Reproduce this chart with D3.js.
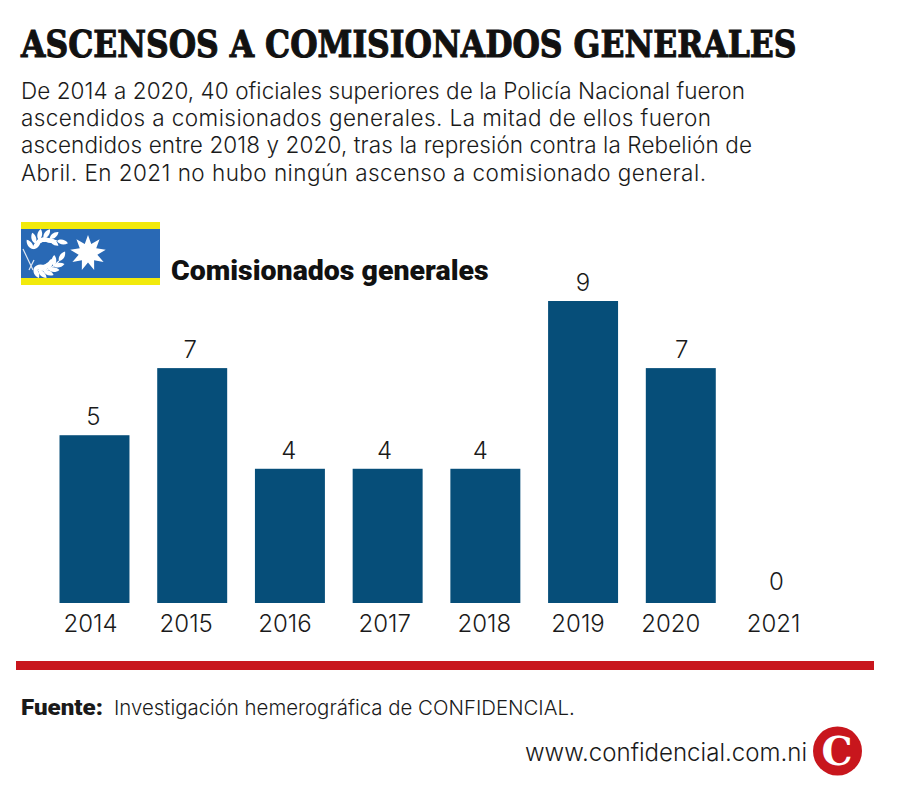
<!DOCTYPE html>
<html>
<head>
<meta charset="utf-8">
<script src="https://cdn.jsdelivr.net/npm/d3@7"></script>
<style>
    html, body { margin: 0; padding: 0; background: #fff; }
    svg { display: block; }
    text { fill: #1a1a1a; font-family: "Inter", "Roboto", sans-serif; }
</style>
</head>
<body>
<div id="chart"></div>
<script>
// Data
const years = ["2014", "2015", "2016", "2017", "2018", "2019", "2020", "2021"];
const counts = [5, 7, 4, 4, 4, 9, 7, 0];

const titleText = "ASCENSOS A COMISIONADOS GENERALES";
const introLines = [
    "De 2014 a 2020, 40 oficiales superiores de la Policía Nacional fueron",
    "ascendidos a comisionados generales. La mitad de ellos fueron",
    "ascendidos entre 2018 y 2020, tras la represión contra la Rebelión de",
    "Abril. En 2021 no hubo ningún ascenso a comisionado general."
];

// Measured line widths, the original text is set a bit looser on some lines
const introWidths = [724, 690, 731, 685];

// Labels in the original are hand placed, not centred on the bars
const tickShift = [-4, -6, -5, -3, -1, -5, -10, -5];
const valueShift = [-1, -2, -1, -3, -5, 0, 1, -2];

const width = 899, height = 798;
const svg = d3.select("#chart").append("svg")
    .attr("width", width)
    .attr("height", height);

// Title, squeezed horizontally to the measured width
const title = svg.append("text")
    .style("font-family", "'DejaVu Serif', serif")
    .style("font-weight", 700)
    .style("font-size", "38px")
    .style("fill", "#111")
    .style("stroke", "#111")
    .style("stroke-width", 1.1)
    .text(titleText);
const titleScale = 776 / title.node().getComputedTextLength();
title.attr("transform", `translate(21,57) scale(${titleScale},1)`);

svg.selectAll(".intro")
    .data(introLines)
    .join("text")
    .attr("class", "intro")
    .attr("x", 21)
    .attr("y", (d, i) => 99 + i * 27.2)
    .attr("textLength", (d, i) => introWidths[i])
    .attr("lengthAdjust", "spacing")
    .style("font-size", "22.5px")
    .style("font-weight", 300)
    .text(d => d);

// Rank insignia
const flag = svg.append("g").attr("transform", "translate(21,222)");
flag.append("rect").attr("width", 139).attr("height", 63).attr("fill", "#f2ea0c");
flag.append("rect").attr("y", 7).attr("width", 139).attr("height", 49).attr("fill", "#2969b5");

const star = d3.range(18).map(i => {
    const r = i % 2 ? 9.5 : 18;
    const a = i * Math.PI / 9 - Math.PI / 2;
    return [r * Math.cos(a), r * Math.sin(a)];
});
flag.append("path")
    .attr("transform", "translate(67,31)")
    .attr("d", d3.line()(star) + "Z")
    .attr("fill", "#fff");

// Two laurel branches: leaves sit along a curved stem
const leaf = "M0,0C2,-3.5 7,-4.5 11,-2C8,2 3,2.5 0,0Z";
const branches = [
    { p0: [12, 27], p1: [16, 11], p2: [36, 19] },
    { p0: [13, 46], p1: [24, 54], p2: [38, 39] }
];
branches.forEach(b => {
    flag.append("path")
        .attr("d", `M${b.p0}Q${b.p1} ${b.p2}`)
        .attr("stroke", "#fff").attr("stroke-width", 1.2).attr("fill", "none");
    [0, 0.2, 0.4, 0.6, 0.8, 1].forEach(t => {
        const u = 1 - t;
        const px = u * u * b.p0[0] + 2 * u * t * b.p1[0] + t * t * b.p2[0];
        const py = u * u * b.p0[1] + 2 * u * t * b.p1[1] + t * t * b.p2[1];
        const dx = u * (b.p1[0] - b.p0[0]) + t * (b.p2[0] - b.p1[0]);
        const dy = u * (b.p1[1] - b.p0[1]) + t * (b.p2[1] - b.p1[1]);
        const angle = Math.atan2(dy, dx) * 180 / Math.PI;
        (t === 1 ? [0] : [-38, 38]).forEach(side => {
            flag.append("path").attr("d", leaf).attr("fill", "#fff")
                .attr("transform", `translate(${px},${py}) rotate(${angle + side})`);
        });
    });
});
flag.append("path")
    .attr("d", "M2,27L12,48M8,48L13,38")
    .attr("stroke", "#dfe7f2").attr("stroke-width", 1.2).attr("fill", "none");

// Subtitle
svg.append("text")
    .attr("x", 171).attr("y", 280)
    .style("font-family", "'Roboto', sans-serif")
    .style("font-weight", 900)
    .style("font-size", "28.5px")
    .style("fill", "#111")
    .text("Comisionados generales");

// Scales
const xScale = d3.scaleBand()
    .domain(years)
    .range([59.5, 813.5])
    .paddingInner(0.284)
    .paddingOuter(0);
const yScale = d3.scaleLinear().domain([0, 9]).range([603, 301]);

// Bars
svg.selectAll(".bar")
    .data(counts)
    .join("rect")
    .attr("class", "bar")
    .attr("x", (d, i) => xScale(years[i]))
    .attr("y", d => yScale(d))
    .attr("width", xScale.bandwidth())
    .attr("height", d => yScale(0) - yScale(d))
    .attr("fill", "#064e79");

// Value labels
svg.selectAll(".value")
    .data(counts)
    .join("text")
    .attr("class", "value")
    .attr("x", (d, i) => xScale(years[i]) + xScale.bandwidth() / 2 + valueShift[i])
    .attr("y", d => yScale(d) - (d === 0 ? 13 : 10))
    .attr("text-anchor", "middle")
    .style("font-size", "24px")
    .style("font-weight", 300)
    .text(d => d);

// Year axis
const xAxis = svg.append("g")
    .attr("transform", "translate(0,603)")
    .call(d3.axisBottom(xScale).tickSize(0).tickPadding(12));
xAxis.select(".domain").remove();
xAxis.selectAll("text")
    .attr("dx", (d, i) => tickShift[i])
    .style("font-family", "'Inter', sans-serif")
    .style("font-size", "24px")
    .style("font-weight", 300)
    .style("fill", "#1a1a1a");

// Red rule
svg.append("rect")
    .attr("x", 16).attr("y", 661)
    .attr("width", 858).attr("height", 9)
    .attr("fill", "#c8161d");

// Source
svg.append("text")
    .attr("x", 21).attr("y", 715)
    .attr("textLength", 82).attr("lengthAdjust", "spacingAndGlyphs")
    .style("font-family", "'Roboto', sans-serif")
    .style("font-weight", 900)
    .style("font-size", "22px")
    .text("Fuente:");
svg.append("text")
    .attr("x", 114).attr("y", 715)
    .style("font-size", "20.4px")
    .style("font-weight", 300)
    .text("Investigación hemerográfica de CONFIDENCIAL.");

// Site and logo
svg.append("text")
    .attr("x", 525).attr("y", 761)
    .style("font-size", "24.05px")
    .style("font-weight", 300)
    .text("www.confidencial.com.ni");
svg.append("circle")
    .attr("cx", 837.5).attr("cy", 751).attr("r", 24.5)
    .attr("fill", "#c8161d");
svg.append("text")
    .attr("x", 837).attr("y", 765)
    .attr("text-anchor", "middle")
    .style("font-family", "'DejaVu Serif', serif")
    .style("font-weight", 700)
    .style("font-size", "39px")
    .style("fill", "#fff")
    .text("C");
</script>
</body>
</html>
